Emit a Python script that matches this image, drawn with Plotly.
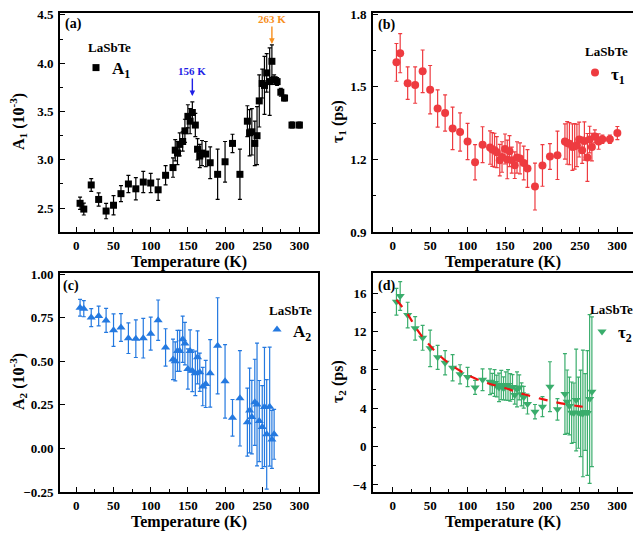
import plotly.graph_objects as go

# ---------------- data ----------------
T_a = [5, 10, 20, 30, 40, 50, 60, 70, 80, 90, 100, 110, 120,
       130, 133, 136, 139, 143, 146, 150, 153, 156, 160, 163, 166, 169, 174, 180,
       190, 200, 210, 220,
       230, 233, 236, 240, 243, 246, 250, 253, 256, 260, 263, 266, 270, 275, 280, 290, 300]
A1 = [2.55, 2.49, 2.74, 2.59, 2.47, 2.53, 2.65, 2.75, 2.70, 2.77, 2.76, 2.69, 2.84,
      2.92, 3.10, 3.07, 3.16, 3.19, 3.30, 3.45, 3.40, 3.49, 3.36, 3.11, 3.04, 3.07, 3.06, 2.97,
      2.85, 2.98, 3.17, 2.85,
      3.40, 3.28, 3.29, 3.17, 3.25, 3.61, 3.79, 3.77, 3.90, 3.81, 4.02, 3.83, 3.81, 3.70, 3.64, 3.36, 3.36]
A1_err = [0.063, 0.061, 0.066, 0.069, 0.08, 0.10, 0.083, 0.09, 0.115, 0.11, 0.10, 0.11, 0.10,
          0.10, 0.11, 0.12, 0.12, 0.10, 0.12, 0.12, 0.13, 0.11, 0.12, 0.11, 0.12, 0.13, 0.13, 0.165,
          0.26, 0.21, 0.095, 0.26,
          0.16, 0.24, 0.24, 0.23, 0.30, 0.27, 0.15, 0.30, 0.20, 0.35, 0.17, 0.05, 0.04, 0.04, 0.03, 0.03, 0.03]

T_b = [5, 10, 20, 30, 40, 50, 60, 70, 80, 90, 100, 110, 120,
       130, 133, 136, 139, 143, 146, 150, 153, 156, 159, 163, 166, 170, 175, 180,
       190, 200, 210, 220,
       230, 233, 236, 240, 243, 246, 249, 253, 256, 260, 263, 266, 270, 275, 280, 290, 300]
tau1 = [1.601, 1.639, 1.515, 1.507, 1.564, 1.488, 1.41, 1.392, 1.328, 1.313, 1.274, 1.188, 1.261,
        1.249, 1.241, 1.238, 1.23, 1.197, 1.21, 1.243, 1.2, 1.234, 1.197, 1.176, 1.208, 1.204, 1.185, 1.162,
        1.088, 1.175, 1.212, 1.217,
        1.274, 1.268, 1.265, 1.251, 1.254, 1.258, 1.282, 1.238, 1.276, 1.208, 1.282, 1.251, 1.295, 1.274, 1.283, 1.283, 1.309]
tau1_err = [0.078, 0.081, 0.067, 0.075, 0.088, 0.10, 0.077, 0.075, 0.088, 0.079, 0.075, 0.073, 0.074,
            0.069, 0.07, 0.07, 0.064, 0.065, 0.063, 0.062, 0.08, 0.064, 0.054, 0.055, 0.065, 0.064, 0.07, 0.078,
            0.097, 0.086, 0.053, 0.10,
            0.073, 0.088, 0.087, 0.096, 0.094, 0.088, 0.072, 0.054, 0.079, 0.099, 0.055, 0.057, 0.027, 0.032, 0.017, 0.017, 0.027]

T_c = [5, 10, 20, 30, 40, 50, 60, 70, 80, 90, 100, 110, 120,
       130, 133, 136, 139, 143, 146, 150, 153, 156, 160, 163, 166, 170, 174, 180,
       190, 200, 210, 220,
       230, 233, 236, 240, 243, 246, 250, 253, 256, 260, 263, 266]
A2 = [0.808, 0.802, 0.751, 0.76, 0.735, 0.679, 0.694, 0.633, 0.63, 0.633, 0.659, 0.736, 0.58,
      0.511, 0.50, 0.56, 0.56, 0.627, 0.602, 0.456, 0.56, 0.446, 0.431, 0.523, 0.437, 0.355, 0.37, 0.431,
      0.589, 0.385, 0.176, 0.288,
      0.151, 0.218, 0.18, 0.265, 0.252, 0.157, 0.123, 0.238, 0.081, 0.24, 0.052, 0.081]
A2_err = [0.048, 0.046, 0.052, 0.057, 0.069, 0.093, 0.08, 0.088, 0.108, 0.114, 0.095, 0.116, 0.107,
          0.116, 0.112, 0.118, 0.118, 0.133, 0.122, 0.116, 0.12, 0.12, 0.128, 0.152, 0.11, 0.11, 0.135, 0.194,
          0.276, 0.211, 0.105, 0.274,
          0.195, 0.243, 0.211, 0.247, 0.352, 0.233, 0.238, 0.342, 0.314, 0.342, 0.166, 0.143]

T_d = [5, 10, 20, 30, 40, 50, 60, 70, 80, 90, 100, 110, 120,
       130, 133, 136, 139, 142, 145, 148, 151, 154, 157, 160, 163, 166, 169, 172, 175, 180,
       190, 200, 210, 220,
       230, 233, 236, 239, 242, 245, 248, 251, 254, 257, 260, 263, 266]
tau2 = [15.1, 15.69, 13.71, 12.32, 11.34, 10.24, 9.3, 8.74, 8.22, 7.53, 7.25, 6.17, 6.97,
        6.76, 6.59, 6.63, 6.31, 6.17, 6.42, 6.07, 6.31, 6.42, 6.17, 6.21, 5.38, 5.97, 6.17, 5.45, 5.14, 4.44,
        3.64, 4.16, 6.24, 3.88,
        5.48, 4.68, 4.23, 3.53, 3.53, 4.85, 3.53, 3.46, 3.46, 3.6, 3.5, 4.96, 5.72]
tau2_err = [1.39, 1.5, 1.33, 1.23, 1.3, 1.9, 1.25, 1.27, 1.37, 1.0, 1.0, 0.73, 1.13,
            1.35, 1.04, 1.39, 1.13, 1.48, 1.53, 1.2, 1.48, 1.6, 1.44, 1.3, 0.95, 1.82, 1.3, 1.2, 1.13, 1.04,
            0.75, 1.04, 2.6, 1.13,
            4.2, 3.3, 3.0, 3.2, 3.1, 5.3, 3.7, 4.5, 6.6, 4.0, 6.5, 8.8, 7.8]

T_fit = [5, 20, 30, 40, 50, 60, 70, 80, 90, 100, 125, 150, 175, 200, 225, 250, 266]
tau2_fit = [15.3, 13.8, 12.5, 11.4, 10.5, 9.65, 9.0, 8.4, 7.9, 7.45, 6.65, 6.1, 5.45, 4.95, 4.5, 4.2, 4.0]

x_ticks = [0, 50, 100, 150, 200, 250, 300]

# ---------------- style ----------------
W, H = 633, 533
FONT = "Liberation Serif"
C_RED = "#ee3b40"
C_BLUE = "#2479e0"
C_GREEN = "#3aad6c"


def px_x(a, b):
    return [a / W, b / W]


def px_y(top, bottom):
    return [1 - bottom / H, 1 - top / H]


def PX(x):
    return x / W


def PY(y):
    return 1 - y / H


fig = go.Figure()


def add_series(x, y, err, xa, ya, color, symbol, size, legend):
    fig.add_trace(go.Scatter(
        x=x, y=y, mode="markers", name=" ", xaxis=xa, yaxis=ya, legend=legend,
        marker=dict(color=color, symbol=symbol, size=size, line=dict(width=0)),
        error_y=dict(type="data", array=err, visible=True, color=color,
                     thickness=1.2, width=2),
    ))


add_series(T_a, A1, A1_err, "x", "y", "black", "square", 7, "legend")
add_series(T_b, tau1, tau1_err, "x2", "y2", C_RED, "circle", 8, "legend2")
add_series(T_c, A2, A2_err, "x3", "y3", C_BLUE, "triangle-up", 8, "legend3")
add_series(T_d, tau2, tau2_err, "x4", "y4", C_GREEN, "triangle-down", 8, "legend4")

fig.add_trace(go.Scatter(
    x=T_fit, y=tau2_fit, mode="lines", xaxis="x4", yaxis="y4", showlegend=False,
    line=dict(color="#ee1111", width=2.2, dash="dash", shape="spline"),
))

tickfont = dict(family=FONT, size=13, color="black", weight="bold")
titlefont = dict(family=FONT, size=16, color="black", weight="bold")


def xaxis(domain, anchor, rng):
    return dict(domain=domain, anchor=anchor, range=rng, tickvals=x_ticks, automargin=False,
                ticks="inside", ticklen=5, tickwidth=1.2, tickcolor="black",
                minor=dict(dtick=25, tick0=0, ticks="inside", ticklen=3, tickwidth=1, tickcolor="black"),
                showline=True, linewidth=2, linecolor="black", mirror=True,
                showgrid=False, zeroline=False, tickfont=tickfont,
                title=dict(text="Temperature (K)", font=titlefont, standoff=4))


def yaxis(domain, anchor, rng, dtick, tickfmt, minor_dtick, mirror=True):
    d = dict(domain=domain, anchor=anchor, range=rng, dtick=dtick, tick0=0, automargin=False,
             tickformat=tickfmt,
             ticks="inside", ticklen=5, tickwidth=1.2, tickcolor="black",
             showline=True, linewidth=2, linecolor="black", mirror=mirror,
             showgrid=False, zeroline=False, tickfont=tickfont, ticklabelstandoff=2)
    if minor_dtick:
        d["minor"] = dict(dtick=minor_dtick, ticks="inside", ticklen=3, tickwidth=1, tickcolor="black")
    return d


XL = px_x(60, 318)
XR = [373 / W, 1.0]
YT = px_y(13, 232)
YB = px_y(273, 492)

fig.update_layout(
    template="none",
    width=W, height=H, autosize=False,
    margin=dict(l=0, r=0, t=0, b=0, pad=0, autoexpand=False),
    paper_bgcolor="white", plot_bgcolor="white",
    font=dict(family=FONT, color="black"),
    xaxis=xaxis(XL, "y", [-22, 325]),
    yaxis=yaxis(YT, "x", [2.253, 4.52], 0.5, ".1f", 0.25),
    xaxis2=xaxis(XR, "y2", [-26.3, 320.9]),
    yaxis2=yaxis(YT, "x2", [0.9, 1.805], 0.3, ".1f", 0.15, mirror=False),
    xaxis3=xaxis(XL, "y3", [-22, 325]),
    yaxis3=yaxis(YB, "x3", [-0.25, 1.007], 0.25, ".2f", None),
    xaxis4=xaxis(XR, "y4", [-26.3, 320.9]),
    yaxis4=yaxis(YB, "x4", [-4.73, 18.09], 4, "d", 2, mirror=False),
    showlegend=True,
)

leg_common = dict(bgcolor="rgba(0,0,0,0)", borderwidth=0, xanchor="left", yanchor="middle",
                  font=dict(family=FONT, size=14, color="black", weight="bold"),
                  itemwidth=30, tracegroupgap=0)
# legend symbols sit ~20 px right of the legend's left edge
fig.update_layout(
    legend=dict(x=PX(96 - 20), y=PY(68), **leg_common),
    legend2=dict(x=PX(595 - 20), y=PY(73), **leg_common),
    legend3=dict(x=PX(277 - 20), y=PY(330), **leg_common),
    legend4=dict(x=PX(602 - 20), y=PY(332), **leg_common),
)

ann = []
# panel labels
lab_font = dict(family=FONT, size=14, color="black", weight="bold")
for txt, xp, yp in [("(a)", 63, 24), ("(b)", 376, 25), ("(c)", 61, 286), ("(d)", 376, 286)]:
    ann.append(dict(text=txt, x=PX(xp), y=PY(yp), xref="paper", yref="paper",
                    xanchor="left", yanchor="middle", showarrow=False, font=lab_font))
# sample name
name_font = dict(family=FONT, size=13, color="black", weight="bold")
for xp, yp in [(86, 47), (583, 52), (267, 310), (588, 309)]:
    ann.append(dict(text="LaSbTe", x=PX(xp), y=PY(yp), xref="paper", yref="paper",
                    xanchor="left", yanchor="middle", showarrow=False, font=name_font))
# legend labels
item_font = dict(family=FONT, size=17, color="black", weight="bold")
for txt, xp, yp in [("A<sub>1</sub>", 110, 70), ("τ<sub>1</sub>", 609, 76),
                    ("A<sub>2</sub>", 291, 333), ("τ<sub>2</sub>", 616, 334)]:
    ann.append(dict(text=txt, x=PX(xp), y=PY(yp), xref="paper", yref="paper",
                    xanchor="left", yanchor="middle", showarrow=False, font=item_font))
# y-axis titles
for txt, xp, yp in [("A<sub>1</sub> (10<sup>-3</sup>)", 18, 122), ("τ<sub>1</sub> (ps)", 338, 122),
                    ("A<sub>2</sub> (10<sup>-3</sup>)", 18, 382), ("τ<sub>2</sub> (ps)", 338, 382)]:
    ann.append(dict(text=txt, x=PX(xp), y=PY(yp), xref="paper", yref="paper", textangle=-90,
                    xanchor="center", yanchor="middle", showarrow=False, font=titlefont))
# transition markers
ann.append(dict(text="156 K", x=156, y=3.66, xref="x", yref="y", ax=0, ay=-25,
                showarrow=True, arrowhead=2, arrowsize=0.8, arrowwidth=1.4, arrowcolor="#1f1fe6",
                font=dict(family=FONT, size=11, color="#1f1fe6", weight="bold")))
ann.append(dict(text="263 K", x=263, y=4.2, xref="x", yref="y", ax=0, ay=-25,
                showarrow=True, arrowhead=2, arrowsize=0.8, arrowwidth=1.4, arrowcolor="#f7901e",
                font=dict(family=FONT, size=11, color="#f7901e", weight="bold")))
fig.update_layout(annotations=ann)

fig.write_html("out.html", config={"displayModeBar": False},
               post_script="document.body.style.margin='0';document.body.style.padding='0';")
